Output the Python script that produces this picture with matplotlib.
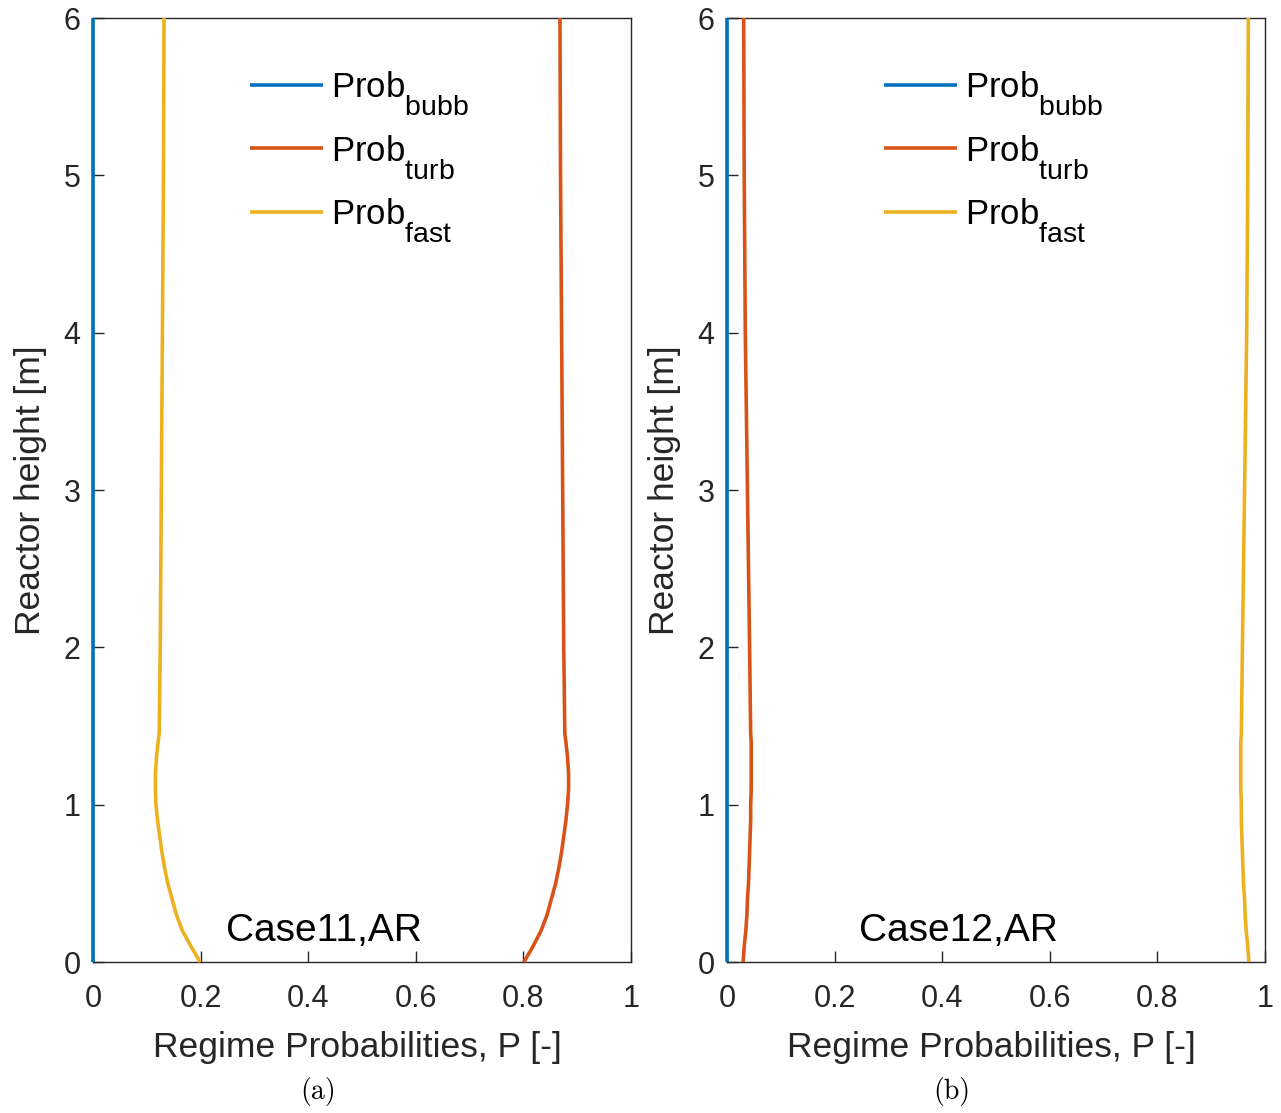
import matplotlib
matplotlib.use("Agg")
import matplotlib.pyplot as plt
import matplotlib._mathtext as mathtext_impl

plt.rcParams["font.family"] = ["Liberation Sans", "DejaVu Sans"]
plt.rcParams["mathtext.fontset"] = "custom"
plt.rcParams["mathtext.rm"] = "Liberation Sans"

# larger, lower subscripts for the legend labels
mathtext_impl.SHRINK_FACTOR = 0.82
mathtext_impl.FontConstantsBase.sub1 = 0.9
mathtext_impl.FontConstantsBase.sub2 = 0.9

# Reactor heights [m] at which the regime probabilities were sampled
heights = [0.0, 0.1, 0.2, 0.3, 0.4, 0.5, 0.6, 0.7, 0.8, 0.9, 1.0,
           1.1, 1.2, 1.3, 1.4, 1.45, 2.0, 3.0, 4.0, 5.0, 6.0]

# Case 11
case11_bubb = [0.0] * 21
case11_turb = [0.801, 0.818, 0.833, 0.844, 0.852, 0.860, 0.866, 0.871, 0.875, 0.879, 0.882,
               0.884, 0.884, 0.882, 0.879, 0.877, 0.875, 0.873, 0.871, 0.869, 0.868]
case11_fast = [0.199, 0.182, 0.166, 0.155, 0.147, 0.139, 0.133, 0.128, 0.124, 0.120, 0.117,
               0.116, 0.116, 0.118, 0.121, 0.123, 0.125, 0.127, 0.129, 0.131, 0.132]

# Case 12
case12_bubb = [0.0] * 21
case12_turb = [0.030, 0.032, 0.035, 0.037, 0.038, 0.040, 0.041, 0.042, 0.043, 0.044, 0.044,
               0.045, 0.045, 0.045, 0.045, 0.044, 0.042, 0.038, 0.034, 0.032, 0.031]
case12_fast = [0.970, 0.968, 0.965, 0.963, 0.962, 0.960, 0.959, 0.958, 0.957, 0.956, 0.956,
               0.955, 0.955, 0.955, 0.955, 0.956, 0.958, 0.962, 0.966, 0.968, 0.969]

labels = [r"Prob$_{\mathregular{bubb}}$", r"Prob$_{\mathregular{turb}}$",
          r"Prob$_{\mathregular{fast}}$"]
colors = ["#0072BD", "#D95319", "#EDB120"]
axis_color = "#262626"

fig = plt.figure(figsize=(12.81, 11.13), dpi=100)
ax_a = fig.add_axes([93 / 1281, 151 / 1113, 538 / 1281, 944 / 1113])
ax_b = fig.add_axes([727 / 1281, 151 / 1113, 538 / 1281, 944 / 1113])

panels = [
    (ax_a, [case11_bubb, case11_turb, case11_fast], "Case11,AR", "(a)"),
    (ax_b, [case12_bubb, case12_turb, case12_fast], "Case12,AR", "(b)"),
]

for ax, series, case_name, tag in panels:
    for values, label, color in zip(series, labels, colors):
        ax.plot(values, heights, color=color, linewidth=2.6, label=label,
                solid_capstyle="butt", clip_on=False, zorder=3)
    ax.set_xlim(0, 1)
    ax.set_ylim(0, 6)
    ax.set_xticks([0, 0.2, 0.4, 0.6, 0.8, 1])
    ax.set_xticklabels(["0", "0.2", "0.4", "0.6", "0.8", "1"])
    ax.set_yticks(range(7))
    ax.tick_params(direction="in", length=8, width=1.0, colors=axis_color,
                   labelsize=22, labelcolor=axis_color)
    ax.tick_params(axis="x", pad=16)
    ax.tick_params(axis="y", pad=9)
    for spine in ax.spines.values():
        spine.set_color(axis_color)
        spine.set_linewidth(1.0)
    ax.set_xlabel("Regime Probabilities, P [-]", fontsize=25.5, color=axis_color,
                  labelpad=12)
    ax.xaxis.label.set_x(0.491)
    ax.set_ylabel("Reactor height [m]", fontsize=25.5, color=axis_color, labelpad=12)
    ax.text(0.43, 0.2, case_name, fontsize=28, ha="center", va="center",
            color="black")
    ax.legend(loc="upper left", bbox_to_anchor=(0.292, 0.946), frameon=False,
              fontsize=25, handlelength=2.1, handletextpad=0.22, labelspacing=0.45,
              borderpad=0, borderaxespad=0)
    ax.text(0.418, -0.137, tag, transform=ax.transAxes, fontsize=20,
            family="cmr10", ha="center", va="center", color="black")

fig.savefig("out.png", dpi=100)
